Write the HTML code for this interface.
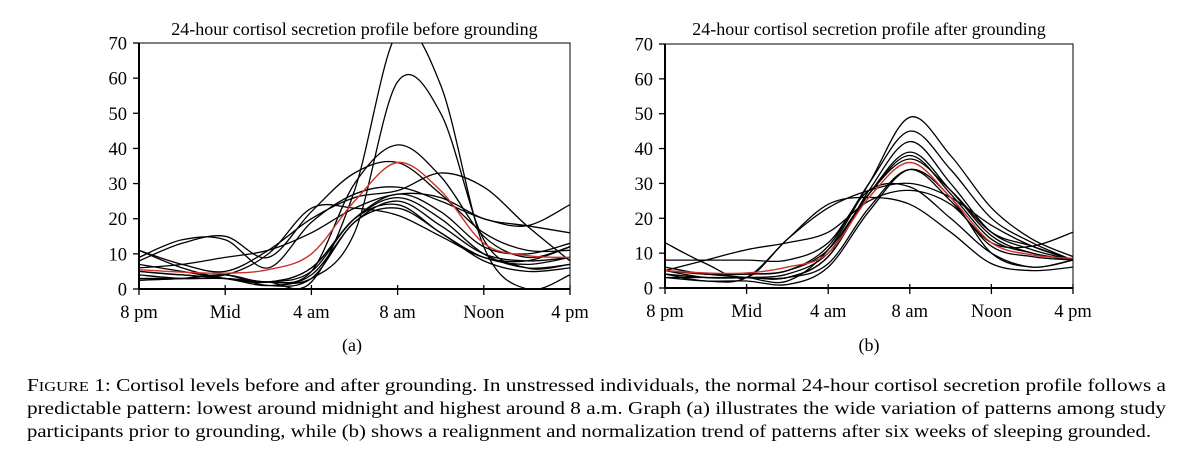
<!DOCTYPE html>
<html><head><meta charset="utf-8"><style>
html,body{margin:0;padding:0;background:#fff;}
svg{display:block;font-family:"Liberation Serif",serif;}
</style></head><body>
<svg id="fig" width="1200" height="473" viewBox="0 0 1200 473">
<g id="ca"></g>
<g id="cb"></g>
<text x="352" y="351" font-size="18" text-anchor="middle">(a)</text>
<text x="869" y="351" font-size="18" text-anchor="middle">(b)</text>
<g font-size="17.5">
<text x="27" y="391" textLength="1139" lengthAdjust="spacingAndGlyphs">F<tspan font-size="13.5">IGURE</tspan> 1: Cortisol levels before and after grounding. In unstressed individuals, the normal 24-hour cortisol secretion profile follows a</text>
<text x="27" y="414" textLength="1139" lengthAdjust="spacingAndGlyphs">predictable pattern: lowest around midnight and highest around 8 a.m. Graph (a) illustrates the wide variation of patterns among study</text>
<text x="27" y="437" textLength="1124" lengthAdjust="spacingAndGlyphs">participants prior to grounding, while (b) shows a realignment and normalization trend of patterns after six weeks of sleeping grounded.</text>
</g>
</svg>
<script>
const hours = [0,2,4,6,8,10,12,14,16,18,20];
const xTickLabels = ["8 pm","Mid","4 am","8 am","Noon","4 pm"];
const yTicks = [0,10,20,30,40,50,60,70];
const seriesA = [
 [3,3,3,2,2,28,73,58,12,0,4],
 [3,3,3,2,3,16,59,50,14,6,7],
 [2.5,3,4,2,5,30,41,32,15,9,12],
 [8,13,15,9,22,33,36,27,16,11,11],
 [11,7,5,11,20,26,28,33,29,18,8],
 [9,14,14,6,19,27,29,25,20,18,24],
 [6,7,9,11,16,23,27,26,20,18,16],
 [5,4,4,10,23,23,21,15,9,8,12],
 [11,6,3,2,6,20,26,20,10,6,7],
 [5,4,3,1,4,19,25,18,10,8,9],
 [4,3,3,2,5,20,24,16,9,7,9],
 [2.5,3,4,1,3,19,23,16,8,5,6],
 [7,5,3,2,6,20,27,22,12,10,13]
];
const meanA = [5.5,4.8,4.5,5.5,10,25,36,28,13,9.5,9];
const seriesB = [
 [5,4,3,2,11,30,49,38,23,14,9],
 [6,4,4,5,12,30,45,34,20,13,8],
 [4,3,3,3,9,28,42,30,16,11,8],
 [4,3,3,3,9,27,39,28,15,10,8],
 [5,4,4,5,11,27,38,27,14,10,8],
 [5,3,3,4,10,27,37,28,16,12,8],
 [3,2,2,1,6,22,34,26,10,6,8],
 [3,3,3,3,7,23,34,25,12,9,8],
 [13,7,3,14,23,28,30,26,18,12,8],
 [8,8,8,8,13,28,29,20,10,6,8],
 [5,8,11,13,16,25,28,24,13,12,16],
 [4,2,3,14,24,26,24,16,7,5,6]
];
const meanB = [5,4.3,4.3,6,10,26,36,26,13,9.5,8.5];

const NS="http://www.w3.org/2000/svg";
function mk(tag,attrs,parent){const e=document.createElementNS(NS,tag);for(const k in attrs)e.setAttribute(k,attrs[k]);parent.appendChild(e);return e;}
function smooth(pts){let d="M"+pts[0][0].toFixed(1)+","+pts[0][1].toFixed(1);
 for(let i=0;i<pts.length-1;i++){const p0=pts[Math.max(0,i-1)],p1=pts[i],p2=pts[i+1],p3=pts[Math.min(pts.length-1,i+2)];
  const c1=[p1[0]+(p2[0]-p0[0])/6,p1[1]+(p2[1]-p0[1])/6],c2=[p2[0]-(p3[0]-p1[0])/6,p2[1]-(p3[1]-p1[1])/6];
  d+=" C"+c1.map(v=>v.toFixed(1)).join(",")+" "+c2.map(v=>v.toFixed(1)).join(",")+" "+p2[0].toFixed(1)+","+p2[1].toFixed(1);}
 return d;}
function draw(gid,x0,x1,y0,y1,title,series,mean){
 const g=document.getElementById(gid);
 const xs=h=>x0+(x1-x0)*h/20, ys=v=>y0-(y0-y1)*v/70;
 const cp="clip-"+gid;
 const defs=mk("defs",{},g);const c=mk("clipPath",{id:cp},defs);mk("rect",{x:x0,y:y1,width:x1-x0,height:y0-y1},c);
 const t=mk("text",{x:(x0+x1)/2,y:35,"font-size":"18","text-anchor":"middle"},g);t.textContent=title;
 
 
 const lines=mk("g",{"clip-path":"url(#"+cp+")",fill:"none"},g);
 series.forEach((s,i)=>{const p=mk("path",{d:smooth(s.map((v,j)=>[xs(hours[j]),ys(v)])),stroke:"#000","stroke-width":"1.3"},lines);
  
  });
 const m=mk("path",{d:smooth(mean.map((v,j)=>[xs(hours[j]),ys(v)])),stroke:"#d0302a","stroke-width":"1.4"},lines);
 
 
 const f=mk("rect",{x:x0,y:y1,width:x1-x0,height:y0-y1,fill:"none",stroke:"#000","stroke-width":"1"},g);
 
 
 const ax=mk("line",{x1:x0,y1:y0,x2:x1,y2:y0,stroke:"#000","stroke-width":"2"},g);
 
 
 mk("line",{x1:x0,y1:y0,x2:x0,y2:y1,stroke:"#000","stroke-width":"2"},g);
 yTicks.forEach(v=>{mk("line",{x1:x0-6,y1:ys(v),x2:x0,y2:ys(v),stroke:"#000","stroke-width":"1.3"},g);
  const l=mk("text",{x:x0-12,y:ys(v)+6.5,"font-size":"18.5","text-anchor":"end"},g);l.textContent=v;
  
  });
 xTickLabels.forEach((s,i)=>{const x=xs(i*4);mk("line",{x1:x,y1:y0-4,x2:x,y2:y0+6,stroke:"#000","stroke-width":"1.3"},g);
  const l=mk("text",{x:x,y:y0+29,"font-size":"18.5","text-anchor":"middle"},g);l.textContent=s;
  
  });
}
draw("ca",139,570,289,43,"24-hour cortisol secretion profile before grounding",seriesA,meanA);
draw("cb",665,1073,288,44,"24-hour cortisol secretion profile after grounding",seriesB,meanB);
</script>
</body></html>
